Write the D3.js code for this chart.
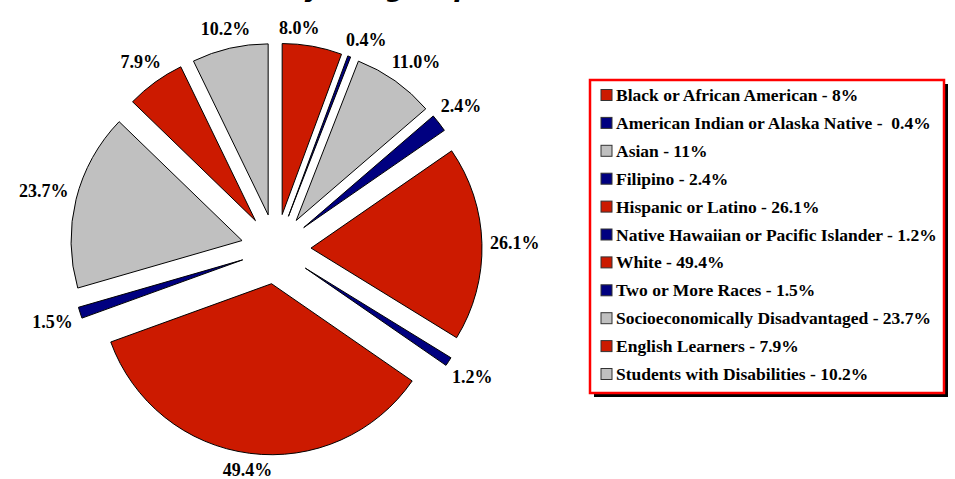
<!DOCTYPE html>
<html>
<head>
<meta charset="utf-8">
<script src="https://cdn.jsdelivr.net/npm/d3@7"></script>
<style>
  body { margin: 0; background: #fff; }
  svg { display: block; }
</style>
</head>
<body>
<div id="chart"></div>
<script>
// subgroup data, clockwise from 12 o'clock
const categories = [
  'Black or African American', 'American Indian or Alaska Native', 'Asian', 'Filipino',
  'Hispanic or Latino', 'Native Hawaiian or Pacific Islander', 'White', 'Two or More Races',
  'Socioeconomically Disadvantaged', 'English Learners', 'Students with Disabilities'
];
const values = [8.0, 0.4, 11.0, 2.4, 26.1, 1.2, 49.4, 1.5, 23.7, 7.9, 10.2];
const legendLabels = [
  'Black or African American - 8%', 'American Indian or Alaska Native -  0.4%', 'Asian - 11%',
  'Filipino - 2.4%', 'Hispanic or Latino - 26.1%', 'Native Hawaiian or Pacific Islander - 1.2%',
  'White - 49.4%', 'Two or More Races - 1.5%', 'Socioeconomically Disadvantaged - 23.7%',
  'English Learners - 7.9%', 'Students with Disabilities - 10.2%'
];
const colorKeys = ['red', 'blue', 'gray', 'blue', 'red', 'blue', 'red', 'blue', 'gray', 'red', 'gray'];

const [w, h] = [955, 479];
const [cx, cy, r, explode] = [276, 249, 171, 35];
const palette = { red: '#cc1a00', blue: '#000080', gray: '#c0c0c0' };
const serif = 'Liberation Serif, Times New Roman, serif';

const svg = d3.select('#chart').append('svg')
  .attr('width', w).attr('height', h);

// title (cut off at the top edge in the original, only descenders show)
svg.append('text')
  .attr('x', 473).attr('y', -4)
  .attr('text-anchor', 'end')
  .attr('font-family', 'DejaVu Sans, Verdana, sans-serif')
  .attr('font-weight', 'bold').attr('font-style', 'italic')
  .attr('font-size', 26)
  .text('Student Enrollment by Subgroup');
svg.append('text')
  .attr('x', 486).attr('y', -4)
  .attr('font-family', 'DejaVu Sans, Verdana, sans-serif')
  .attr('font-size', 24)
  .text('(2014-15)');

const data = values.map((v, i) => ({ name: categories[i], value: v, key: colorKeys[i] }));
const pie = d3.pie().value(d => d.value).sort(null);
const arcs = pie(data);
const arc = d3.arc().innerRadius(0).outerRadius(r);
const mid = d => (d.startAngle + d.endAngle) / 2;

const g = svg.append('g').attr('transform', `translate(${cx},${cy})`);

g.selectAll('path')
  .data(arcs)
  .join('path')
  .attr('d', arc)
  .attr('transform', d => `translate(${explode * Math.sin(mid(d))},${-explode * Math.cos(mid(d))})`)
  .attr('fill', d => palette[d.data.key])
  .attr('stroke', '#000').attr('stroke-width', 1)
  .attr('stroke-linejoin', 'round');

// percentage labels, box placed just outside the exploded slice
const labelR = 214;
const labels = g.selectAll('text.lbl')
  .data(arcs)
  .join('text')
  .attr('class', 'lbl')
  .attr('text-anchor', 'middle')
  .attr('dominant-baseline', 'central')
  .attr('font-family', serif)
  .attr('font-weight', 'bold').attr('font-size', 18)
  .text(d => d.data.value.toFixed(1) + '%');

const lab = [];
labels.each(function (d) {
  lab.push({ el: this, a: mid(d), hw: this.getComputedTextLength() / 2, hh: 9 });
});
const place = l => {
  const rr = labelR + l.hw * Math.abs(Math.sin(l.a)) + 6 * Math.abs(Math.cos(l.a));
  l.x = rr * Math.sin(l.a);
  l.y = -rr * Math.cos(l.a);
};
lab.forEach(place);
// push neighbouring labels apart along the circle when they crowd each other
for (let it = 0; it < 200; it++) {
  let moved = false;
  for (let i = 0; i < lab.length; i++) {
    const p = lab[i], q = lab[(i + 1) % lab.length];
    const gapX = Math.abs(q.x - p.x) - (p.hw + q.hw);
    const gapY = Math.abs(q.y - p.y) - (p.hh + q.hh);
    if (gapX < 26 && gapY < 4) {
      p.a -= 0.004; q.a += 0.004;
      place(p); place(q);
      moved = true;
    }
  }
  if (!moved) break;
}
lab.forEach(l => d3.select(l.el).attr('x', l.x).attr('y', l.y));

// legend
const [lx, ly, lw, lh] = [590, 80, 354, 313];
const legend = svg.append('g');
legend.append('rect')
  .attr('x', lx + 4).attr('y', ly + 4).attr('width', lw).attr('height', lh)
  .attr('fill', '#000');
legend.append('rect')
  .attr('x', lx).attr('y', ly).attr('width', lw).attr('height', lh)
  .attr('fill', '#fff').attr('stroke', '#ff0000').attr('stroke-width', 2.5);

const rowY = d3.scalePoint().domain(d3.range(legendLabels.length)).range([95, 374]);
const rows = legend.selectAll('g.row')
  .data(legendLabels)
  .join('g')
  .attr('class', 'row')
  .attr('transform', (d, i) => `translate(0,${rowY(i)})`);
rows.append('rect')
  .attr('x', 601).attr('y', -5.5).attr('width', 11).attr('height', 11)
  .attr('fill', (d, i) => palette[colorKeys[i]])
  .attr('stroke', '#333').attr('stroke-width', 1);
rows.append('text')
  .attr('x', 616).attr('y', 0)
  .attr('dominant-baseline', 'central')
  .attr('xml:space', 'preserve')
  .style('white-space', 'pre')
  .attr('font-family', serif)
  .attr('font-weight', 'bold').attr('font-size', 17.5)
  .text(d => d);
</script>
</body>
</html>
